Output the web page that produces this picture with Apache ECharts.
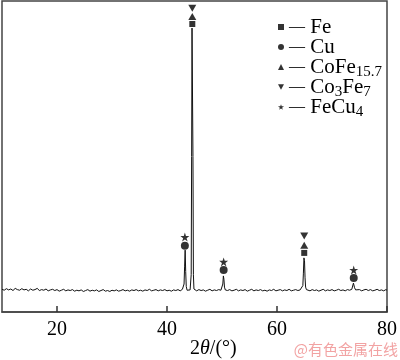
<!DOCTYPE html>
<html>
<head>
<meta charset="utf-8">
<script src="https://cdn.jsdelivr.net/npm/echarts@6/dist/echarts.min.js"></script>
<style>html,body{margin:0;padding:0;background:#fff}#c{width:400px;height:360px}</style>
</head>
<body>
<div id="c"></div>
<script>
// XRD scan: 2θ (deg) and intensity (a.u., 0-100 scale)
const twoTheta = [
10.0,10.4,10.8,11.2,11.6,12.0,12.4,12.8,13.2,13.6,14.0,14.4,14.8,15.2,15.6,16.0,16.4,16.8,17.2,17.6,
18.0,18.4,18.8,19.2,19.6,20.0,20.4,20.8,21.2,21.6,22.0,22.4,22.8,23.2,23.6,24.0,24.4,24.8,25.2,25.6,
26.0,26.4,26.8,27.2,27.6,28.0,28.4,28.8,29.2,29.6,30.0,30.4,30.8,31.2,31.6,32.0,32.4,32.8,33.2,33.6,
34.0,34.4,34.8,35.2,35.6,36.0,36.4,36.8,37.2,37.6,38.0,38.4,38.8,39.2,39.6,40.0,40.4,40.8,41.2,41.6,
42.0,42.4,42.8,43.0,43.1,43.2,43.3,43.4,43.5,43.65,43.8,44.0,44.2,44.3,44.4,44.48,44.55,44.65,44.72,44.8,
44.9,45.0,45.4,45.8,46.2,46.6,47.0,47.4,47.8,48.2,48.6,49.0,49.4,49.8,50.05,50.15,50.25,50.35,50.45,50.6,
51.0,51.4,51.8,52.2,52.6,53.0,53.4,53.8,54.2,54.6,55.0,55.4,55.8,56.2,56.6,57.0,57.4,57.8,58.2,58.6,
59.0,59.4,59.8,60.2,60.6,61.0,61.4,61.8,62.2,62.6,63.0,63.4,63.8,64.2,64.5,64.7,64.8,64.9,65.0,65.1,
65.2,65.35,65.6,66.0,66.4,66.8,67.2,67.6,68.0,68.4,68.8,69.2,69.6,70.0,70.4,70.8,71.2,71.6,72.0,72.4,
72.8,73.2,73.6,73.8,73.9,74.0,74.1,74.3,74.6,75.0,75.4,75.8,76.2,76.6,77.0,77.4,77.8,78.2,78.6,79.0,
79.4,79.8,80.0
];
const intensity = [
7.3,7.0,7.5,7.1,7.4,6.9,7.6,7.2,7.0,7.5,7.1,7.3,6.8,7.4,7.0,7.2,7.6,6.9,7.2,7.0,
7.4,6.8,7.1,7.3,6.9,7.2,6.7,7.0,7.3,6.8,7.1,6.9,7.2,6.7,7.0,6.8,7.1,6.6,6.9,7.2,
6.7,7.0,6.8,7.1,6.6,6.9,7.2,6.7,6.9,6.6,7.0,6.8,7.1,6.7,6.9,7.2,6.8,7.0,6.7,7.1,
6.9,7.2,6.8,7.0,6.7,7.1,6.9,7.3,6.8,7.0,7.2,6.8,7.1,6.9,7.2,6.8,7.0,6.7,7.1,6.9,
7.2,6.8,7.3,7.6,9.0,14.5,19.9,13.0,8.2,7.0,6.9,7.2,7.1,7.6,12.0,50.0,91.3,91.3,50.0,12.0,
7.4,7.0,6.8,7.2,6.9,7.1,6.7,7.0,7.3,6.8,7.1,6.9,7.2,7.0,7.4,9.0,11.6,10.5,8.0,7.1,
6.9,7.2,6.8,7.0,7.3,6.8,7.1,6.9,7.2,6.7,7.0,7.3,6.8,7.1,6.9,7.2,6.8,7.0,6.7,7.1,
6.9,7.3,6.8,7.0,7.2,6.8,7.1,6.9,7.3,6.8,7.0,7.2,6.9,7.1,7.4,8.5,12.5,17.4,16.5,11.0,
8.0,7.2,7.0,6.8,7.2,6.9,7.1,6.7,7.0,7.3,6.8,7.1,6.9,7.2,6.8,7.0,7.3,6.9,7.1,6.8,
7.2,7.0,7.3,7.8,9.3,8.9,7.8,7.1,6.9,7.2,6.8,7.1,7.3,6.9,7.2,6.8,7.0,7.3,6.9,7.1,
6.8,7.2,7.0
];
// Phase markers: [2θ, height]
const phaseNames = ['Fe', 'Cu', 'CoFe15.7', 'Co3Fe7', 'FeCu4'];
const feMarks = [[44.6, 92.6], [64.95, 19.0]];
const cuMarks = [[43.25, 21.3], [50.3, 13.5], [73.95, 10.9]];
const coFe157Marks = [[44.6, 95.0], [64.95, 21.5]];
const co3Fe7Marks = [[44.6, 97.7], [64.95, 24.4]];
const feCu4Marks = [[43.25, 24.1], [50.3, 16.1], [73.95, 13.5]];
const xTicks = [20, 40, 60, 80];

const downTri = 'path://M0,0 L10,0 L5,9 Z';
const star = 'path://M5,0 L6.2,3.6 L10,3.6 L6.9,5.9 L8.1,9.5 L5,7.3 L1.9,9.5 L3.1,5.9 L0,3.6 L3.8,3.6 Z';
const serif = '"Liberation Serif","Times New Roman",serif';

const scan = twoTheta.map((t, i) => [t, intensity[i]]);
const markSets = [feMarks, cuMarks, coFe157Marks, co3Fe7Marks, feCu4Marks];
const symbols = ['rect', 'circle', 'triangle', downTri, star];
const sizes = [[6, 6], [8, 8], [8, 7], [8, 7], [9, 9]];
const legendIcons = ['rect', 'circle', 'triangle', downTri, star];
const legendLabels = {
  'Fe': '{d|—} {t|Fe}',
  'Cu': '{d|—} {t|Cu}',
  'CoFe15.7': '{d|—} {t|CoFe}{s|15.7}',
  'Co3Fe7': '{d|—} {t|Co}{s|3}{t|Fe}{s|7}',
  'FeCu4': '{d|—} {t|FeCu}{s|4}'
};

const chart = echarts.init(document.getElementById('c'), null, {renderer: 'canvas'});
const series = [{
  type: 'line',
  name: 'scan',
  data: scan,
  showSymbol: false,
  symbol: 'none',
  lineStyle: {color: '#111', width: 1},
  silent: true,
  z: 2
}];
phaseNames.forEach((n, i) => {
  series.push({
    type: 'scatter',
    name: n,
    data: markSets[i],
    symbol: symbols[i],
    symbolSize: sizes[i],
    itemStyle: {color: '#000'},
    z: 3
  });
});

chart.setOption({
  animation: false,
  backgroundColor: '#fff',
  grid: {left: 2, right: 7, top: 1, bottom: 48, show: true, borderColor: '#444', borderWidth: 1.5, backgroundColor: 'transparent'},
  xAxis: {
    type: 'value', min: 10, max: 80, interval: 10,
    axisLine: {show: true, lineStyle: {color: '#444', width: 1.5}},
    axisTick: {show: true, inside: true, length: 6, customValues: xTicks, lineStyle: {color: '#333', width: 1.5}},
    axisLabel: {customValues: xTicks, color: '#000', fontFamily: serif, fontSize: 20, margin: 8},
    splitLine: {show: false}
  },
  yAxis: {
    type: 'value', min: 0, max: 100,
    axisLine: {show: false}, axisTick: {show: false}, axisLabel: {show: false}, splitLine: {show: false}
  },
  legend: {
    orient: 'vertical', left: 278, top: 14, padding: 0, itemGap: -6,
    itemWidth: 6, itemHeight: 6,
    data: phaseNames.map((n, i) => ({name: n, icon: legendIcons[i]})),
    itemStyle: {color: '#000'},
    formatter: n => legendLabels[n],
    selectedMode: false,
    textStyle: {
      color: '#000', fontFamily: serif, fontSize: 21, lineHeight: 26,
      rich: {
        d: {fontFamily: serif, fontSize: 16, color: '#000', lineHeight: 26, verticalAlign: 'middle'},
        t: {fontFamily: serif, fontSize: 21, color: '#000', lineHeight: 26, verticalAlign: 'middle'},
        s: {fontFamily: serif, fontSize: 15, color: '#000', lineHeight: 26, verticalAlign: 'bottom'}
      }
    }
  },
  graphic: [
    {
      type: 'text', left: 190, top: 339,
      style: {
        text: '2{i|θ}/(°)', fill: '#000', font: '20px ' + serif,
        rich: {i: {fontStyle: 'italic', fontFamily: serif, fontSize: 20, fill: '#000'}}
      }
    },
    {
      type: 'text', right: 2, top: 342,
      style: {text: '@有色金属在线', fill: '#f2a3a3', font: '15px "Noto Sans CJK SC", sans-serif'}
    }
  ],
  series: series
});
</script>
</body>
</html>
